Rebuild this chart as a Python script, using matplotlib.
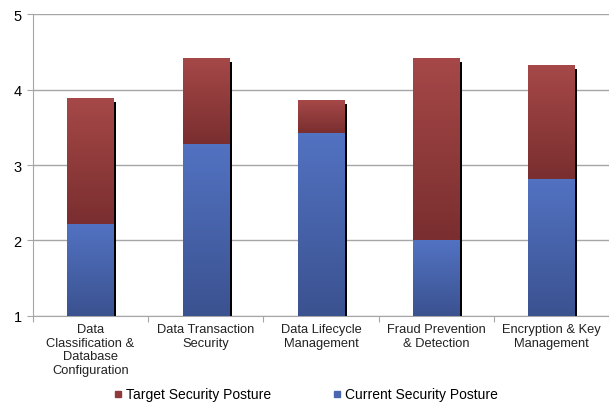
import numpy as np
import matplotlib
matplotlib.use("Agg")
import matplotlib.pyplot as plt
from matplotlib.colors import LinearSegmentedColormap
from matplotlib.patches import Rectangle

plt.rcParams["font.family"] = ["Liberation Sans", "DejaVu Sans"]

# ── Data ─────────────────────────────────────────────────────────────────────
categories = [
    "Data\nClassification &\nDatabase\nConfiguration",
    "Data Transaction\nSecurity",
    "Data Lifecycle\nManagement",
    "Fraud Prevention\n& Detection",
    "Encryption & Key\nManagement",
]
current = [2.22, 3.28, 3.43, 2.00, 2.82]
target = [3.89, 4.42, 3.86, 4.42, 4.32]

# ── Palette ──────────────────────────────────────────────────────────────────
RED_CMAP = LinearSegmentedColormap.from_list("red", ["#7A2E2F", "#A64848"])
BLUE_CMAP = LinearSegmentedColormap.from_list("blue", ["#3B5290", "#5272C2"])
GRID = "#A6A6A6"
BASE = 1.0
WIDTH = 0.4

fig = plt.figure(figsize=(6.09, 4.10), dpi=100)
ax = fig.add_axes([0.054, 0.227, 0.946, 0.736])


def gradient_bar(x, y0, y1, cmap):
    grad = np.linspace(0, 1, 256).reshape(-1, 1)
    im = ax.imshow(grad, cmap=cmap, origin="lower", aspect="auto",
                   extent=(x - WIDTH / 2, x + WIDTH / 2, y0, y1), zorder=3)
    clip = Rectangle((x - WIDTH / 2, y0), WIDTH, y1 - y0, transform=ax.transData)
    im.set_clip_path(clip)


xs = np.arange(len(categories))
for x, c, t in zip(xs, current, target):
    # shadow along the right edge
    ax.add_patch(Rectangle((x + WIDTH / 2, BASE), 0.025, t - BASE - 0.05,
                           color="black", zorder=2, lw=0))
    gradient_bar(x, c, t, RED_CMAP)
    gradient_bar(x, BASE, c, BLUE_CMAP)

ax.set_xlim(-0.5, len(categories) - 0.5)
ax.set_ylim(1, 5)
ax.set_yticks([1, 2, 3, 4, 5])
ax.yaxis.grid(True, color=GRID, lw=1)
ax.set_axisbelow(True)

ax.set_xticks(np.arange(-0.5, len(categories), 1.0))
ax.set_xticklabels([])
ax.set_xticks(xs, minor=True)
ax.set_xticklabels(categories, minor=True, fontsize=9.3, color="#222222",
                   linespacing=1.2)
ax.tick_params(axis="x", which="minor", length=0, pad=5)
ax.tick_params(axis="x", which="major", length=4, color=GRID)
ax.tick_params(axis="y", length=4, color=GRID, labelsize=10.5, pad=4)

for s in ["top", "right"]:
    ax.spines[s].set_visible(False)
ax.spines["left"].set_color(GRID)
ax.spines["bottom"].set_color(GRID)

handles = [
    plt.Line2D([0], [0], marker="s", lw=0, markersize=5, color="#8E3A3A",
               label="Target Security Posture"),
    plt.Line2D([0], [0], marker="s", lw=0, markersize=5, color="#4A66B0",
               label="Current Security Posture"),
]
fig.legend(handles=handles, loc="lower center", bbox_to_anchor=(0.5, -0.012),
           ncol=2, frameon=False, fontsize=10, handletextpad=0.05,
           columnspacing=4.3, handlelength=1)

fig.savefig("out.png", dpi=100)
